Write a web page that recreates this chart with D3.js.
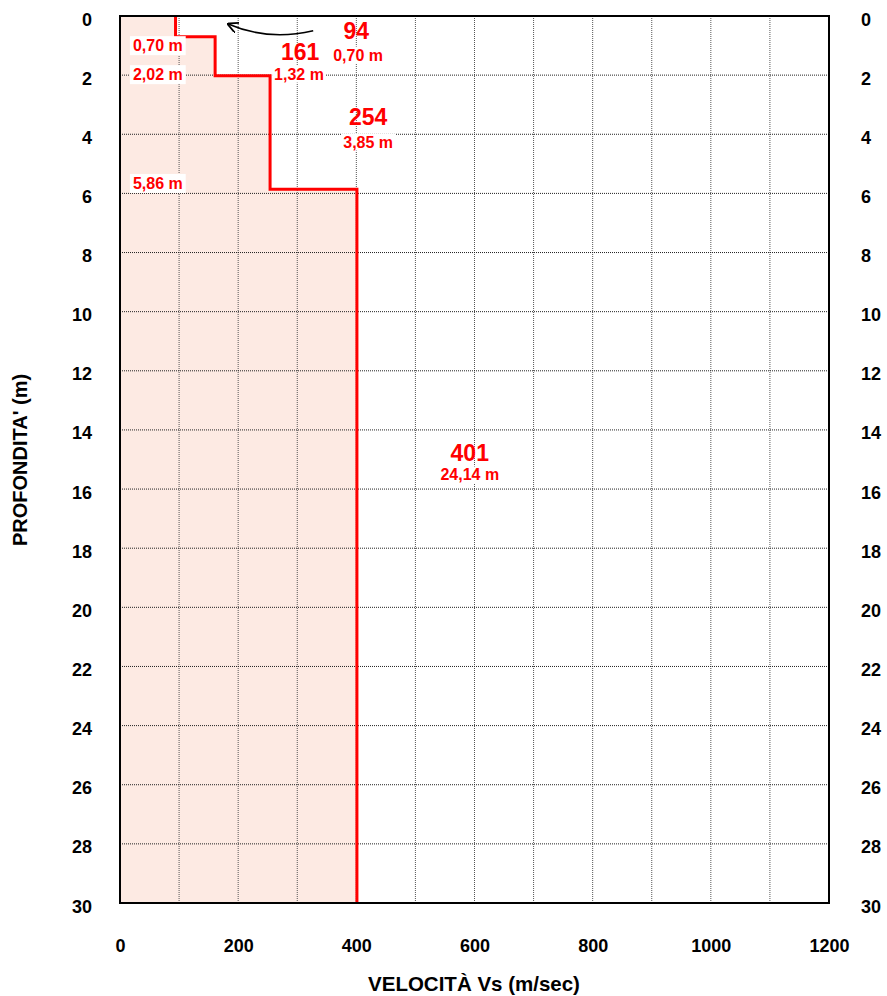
<!DOCTYPE html>
<html><head><meta charset="utf-8">
<script src="https://cdn.jsdelivr.net/npm/d3@7"></script>
<style>body{margin:0;background:#fff;} text{font-family:"Liberation Sans",Arial,sans-serif;font-weight:bold;}</style>
</head><body>
<script>
// Data
const layerTops = [0, 0.70, 2.02, 5.86];
const layerBottoms = [0.70, 2.02, 5.86, 30];
const velocities = [94, 161, 254, 401];
const thicknessLabels = ["0,70 m", "1,32 m", "3,85 m", "24,14 m"];
const depthLabels = ["0,70 m", "2,02 m", "5,86 m"];
const xTicks = [0, 200, 400, 600, 800, 1000, 1200];
const yTicks = [0, 2, 4, 6, 8, 10, 12, 14, 16, 18, 20, 22, 24, 26, 28, 30];
// annotation anchor positions (velocity, depth) for labels
const velLabelPos = [[400, 0.5], [305, 1.22], [420, 3.42], [592, 14.78]];
const thickLabelPos = [[403, 1.32], [303, 1.96], [420, 4.26], [592, 15.52]];
const depthLabelPos = [[64, 1.0], [64, 1.98], [64, 5.66]];

const W = 887, H = 996;
const m = {left: 120, right: 58, top: 16, bottom: 93};
const svg = d3.select("body").append("svg").attr("width", W).attr("height", H);
const x = d3.scaleLinear().domain([0, 1200]).range([m.left, W - m.right]);
const y = d3.scaleLinear().domain([0, 30]).range([m.top, H - m.bottom]);

// profile points
const pts = [];
velocities.forEach((v, i) => { pts.push([v, layerTops[i]]); pts.push([v, layerBottoms[i]]); });

// fill under profile
const area = [[0, 0]].concat(pts).concat([[0, 30]]);
svg.append("path").attr("d", d3.line().x(d => x(d[0])).y(d => y(d[1]))(area) + "Z")
  .attr("fill", "#fdeae3");

// grid
const g = svg.append("g");
d3.range(100, 1200, 100).forEach(v => {
  g.append("line").attr("x1", x(v)).attr("x2", x(v)).attr("y1", y(0)).attr("y2", y(30))
    .attr("stroke", "#555").attr("stroke-width", 1).attr("stroke-dasharray", "1,1");
});
yTicks.slice(1, -1).forEach(d => {
  g.append("line").attr("x1", x(0)).attr("x2", x(1200)).attr("y1", y(d)).attr("y2", y(d))
    .attr("stroke", "#222").attr("stroke-width", 1).attr("stroke-dasharray", "1,1");
});

// profile line
svg.append("path").attr("d", d3.line().x(d => x(d[0])).y(d => y(d[1]))(pts))
  .attr("fill", "none").attr("stroke", "#ff0000").attr("stroke-width", 3);

// border
svg.append("rect").attr("x", x(0)).attr("y", y(0)).attr("width", x(1200) - x(0)).attr("height", y(30) - y(0))
  .attr("fill", "none").attr("stroke", "#000").attr("stroke-width", 2);

// axes
function styleAxis(sel) {
  sel.select(".domain").remove();
  sel.selectAll("text").attr("font-size", 18).attr("font-weight", "bold").attr("fill", "#000")
    .attr("font-family", "'Liberation Sans', Arial, sans-serif");
}
const fmt = d3.format("d");
svg.append("g").attr("transform", `translate(${x(0)},0)`)
  .call(d3.axisLeft(y).tickValues(yTicks).tickFormat(fmt).tickSize(0).tickPadding(28))
  .call(styleAxis).selectAll("text").attr("dy", "0.5em");
svg.append("g").attr("transform", `translate(${x(1200)},0)`)
  .call(d3.axisRight(y).tickValues(yTicks).tickFormat(fmt).tickSize(0).tickPadding(32))
  .call(styleAxis).selectAll("text").attr("dy", "0.5em");
svg.append("g").attr("transform", `translate(0,${y(30)})`)
  .call(d3.axisBottom(x).tickValues(xTicks).tickFormat(fmt).tickSize(0).tickPadding(36))
  .call(styleAxis);

// titles
svg.append("text").attr("x", 474).attr("y", 991).attr("text-anchor", "middle")
  .attr("font-size", 20.5).text("VELOCITÀ Vs (m/sec)");
svg.append("text").attr("transform", "translate(27,460) rotate(-90)").attr("text-anchor", "middle")
  .attr("font-size", 20).text("PROFONDITA' (m)");

// depth labels with white background
depthLabels.forEach((t, i) => {
  const [v, d] = depthLabelPos[i];
  const gg = svg.append("g");
  const tx = gg.append("text").attr("x", x(v)).attr("y", y(d)).attr("text-anchor", "middle")
    .attr("dy", "0.35em").attr("font-size", 16).attr("fill", "#ff0000").text(t);
  const bb = tx.node().getBBox();
  gg.insert("rect", "text").attr("x", bb.x - 3).attr("y", bb.y - 1).attr("width", bb.width + 6).attr("height", bb.height + 2)
    .attr("fill", "#fff");
});

// velocity labels
velocities.forEach((v, i) => {
  const [vx, vd] = velLabelPos[i];
  svg.append("text").attr("x", x(vx)).attr("y", y(vd)).attr("dy", "0.35em").attr("text-anchor", "middle")
    .attr("font-size", 23).attr("fill", "#ff0000").text(v);
  const [tx, td] = thickLabelPos[i];
  const gg = svg.append("g");
  const t = gg.append("text").attr("x", x(tx)).attr("y", y(td)).attr("dy", "0.35em").attr("text-anchor", "middle")
    .attr("font-size", 16).attr("fill", "#ff0000").text(thicknessLabels[i]);
  const bb = t.node().getBBox();
  gg.insert("rect", "text").attr("x", bb.x - 2).attr("y", bb.y).attr("width", bb.width + 4).attr("height", bb.height)
    .attr("fill", "#fff");
});

// curved arrow pointing to the thin top layer
svg.append("defs").append("marker").attr("id", "ah").attr("viewBox", "0 0 10 10").attr("refX", 9).attr("refY", 5)
  .attr("markerWidth", 7).attr("markerHeight", 7).attr("orient", "auto-start-reverse")
  .append("path").attr("d", "M0,0 L10,5 L0,10").attr("fill", "none").attr("stroke", "#000").attr("stroke-width", 1.6);
svg.append("path")
  .attr("d", `M${x(327)},${y(0.5)} Q${x(250)},${y(0.85)} ${x(183)},${y(0.27)}`)
  .attr("fill", "none").attr("stroke", "#000").attr("stroke-width", 1.6).attr("marker-end", "url(#ah)");
</script>
</body></html>
